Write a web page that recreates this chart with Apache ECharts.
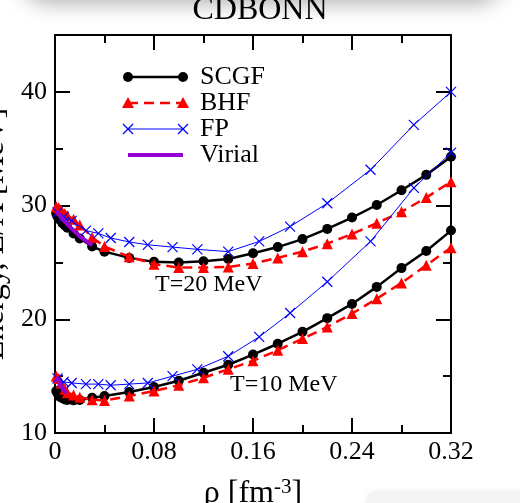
<!DOCTYPE html>
<html>
<head>
<meta charset="utf-8">
<script src="https://cdn.jsdelivr.net/npm/echarts@6/dist/echarts.min.js"></script>
<style>
  html, body { margin: 0; padding: 0; background: #fff; }
  #chart { width: 520px; height: 503px; }
</style>
</head>
<body>
<div id="chart"></div>
<script>
// Energy per particle of neutron matter, CDBONN potential, at T = 10 and 20 MeV
const SERIF = '"Liberation Serif","Times New Roman",serif';

const chartTitle = 'CDBONN';
const seriesNames = ['SCGF', 'BHF', 'FP', 'Virial'];
const tempLabels = ['T=20 MeV', 'T=10 MeV'];
const xTickLabels = [0, 0.08, 0.16, 0.24, 0.32];
const yTickLabels = [10, 20, 30, 40];

// density grids (fm^-3)
const rhoSCGF = [0.001, 0.002, 0.004, 0.006, 0.008, 0.01, 0.015, 0.02, 0.03, 0.04, 0.06, 0.08, 0.10, 0.12, 0.14, 0.16, 0.18, 0.20, 0.22, 0.24, 0.26, 0.28, 0.30, 0.32];
const rhoBHF = [0.001, 0.003, 0.005, 0.008, 0.01, 0.015, 0.02, 0.03, 0.04, 0.06, 0.08, 0.10, 0.12, 0.14, 0.16, 0.18, 0.20, 0.22, 0.24, 0.26, 0.28, 0.30, 0.32];
const rhoFP = [0.002, 0.007, 0.0135, 0.025, 0.035, 0.045, 0.06, 0.075, 0.095, 0.115, 0.14, 0.165, 0.19, 0.22, 0.255, 0.29, 0.32];
const rhoVirial20 = [0.001, 0.005, 0.01, 0.015, 0.02, 0.025, 0.03];
const rhoVirial10 = [0.001, 0.004, 0.007, 0.009];

// E/A (MeV) at T = 20 MeV
const scgfT20 = [29.3, 29.05, 28.75, 28.45, 28.25, 28.05, 27.55, 27.1, 26.4, 25.95, 25.4, 25.05, 25.0, 25.1, 25.3, 25.8, 26.35, 27.05, 27.95, 28.95, 30.05, 31.35, 32.7, 34.3];
const bhfT20 = [29.9, 29.8, 29.6, 29.3, 29.1, 28.8, 28.3, 27.2, 26.4, 25.5, 24.85, 24.55, 24.55, 24.6, 24.9, 25.4, 25.95, 26.65, 27.5, 28.45, 29.45, 30.7, 32.1];
const fpT20 = [29.4, 29.0, 28.65, 27.8, 27.55, 27.15, 26.8, 26.55, 26.35, 26.15, 25.95, 26.85, 28.15, 30.2, 33.15, 37.1, 40.0];
const virialT20 = [29.5, 28.95, 28.35, 27.8, 27.3, 26.9, 26.5];

// E/A (MeV) at T = 10 MeV
const scgfT10 = [13.7, 13.5, 13.2, 13.05, 12.95, 12.9, 12.87, 12.9, 13.1, 13.25, 13.6, 14.05, 14.6, 15.3, 16.0, 16.9, 17.85, 18.9, 20.1, 21.35, 22.85, 24.5, 26.0, 27.8];
const bhfT10 = [15.0, 14.8, 14.4, 13.85, 13.55, 13.35, 13.15, 12.93, 12.86, 13.25, 13.7, 14.2, 14.86, 15.6, 16.35, 17.27, 18.3, 19.32, 20.5, 21.8, 23.2, 24.75, 26.3];
const fpT10 = [14.8, 14.5, 14.4, 14.3, 14.3, 14.2, 14.3, 14.4, 15.0, 15.6, 16.75, 18.45, 20.55, 23.3, 26.85, 31.55, 34.65];
const virialT10 = [14.9, 14.3, 13.8, 13.5];

const zip = (xs, ys) => xs.map((x, i) => [x, ys[i]]);

const COLORS = { SCGF: '#000000', BHF: '#ff0000', FP: '#0000ff', Virial: '#9400d3' };
const CROSS = 'path://M0,0L10,10M10,0L0,10';

function scgf(data) {
  return {
    type: 'line', name: 'SCGF', data, symbol: 'circle', symbolSize: 10,
    lineStyle: { color: COLORS.SCGF, width: 2.5 },
    itemStyle: { color: COLORS.SCGF }, z: 3
  };
}
function bhf(data) {
  return {
    type: 'line', name: 'BHF', data, symbol: 'triangle', symbolSize: 11,
    lineStyle: { color: COLORS.BHF, width: 2.5, type: [10, 6] },
    itemStyle: { color: COLORS.BHF }, z: 4
  };
}
function fp(data) {
  return {
    type: 'line', name: 'FP', data, symbol: CROSS, symbolSize: 10,
    lineStyle: { color: COLORS.FP, width: 1 },
    itemStyle: { color: COLORS.FP, borderColor: COLORS.FP, borderWidth: 1.2 }, z: 5
  };
}
function virial(data) {
  return {
    type: 'line', name: 'Virial', data, showSymbol: false, symbol: 'none',
    lineStyle: { color: COLORS.Virial, width: 4 }, z: 6
  };
}

const tickFont = { fontFamily: SERIF, fontSize: 26, color: '#000' };
const axisLine = { show: true, lineStyle: { color: '#000', width: 2 } };

function xAxis(position, labels) {
  return {
    type: 'value', position, min: 0, max: 0.32, interval: 0.08,
    axisLine, splitLine: { show: false },
    axisTick: { inside: true, length: 15, lineStyle: { color: '#000', width: 2 } },
    minorTick: { show: true, splitNumber: 2, length: 8, lineStyle: { color: '#000', width: 2 } },
    axisLabel: labels ? Object.assign({ margin: 6, formatter: v => xTickLabels.some(t => Math.abs(t - v) < 1e-9) ? String(+v.toFixed(2)) : '' }, tickFont) : { show: false },
    name: labels ? '{a|ρ [fm}{s|-3}{a|]}' : '',
    nameLocation: 'middle', nameGap: 44,
    nameTextStyle: {
      rich: {
        a: { fontFamily: SERIF, fontSize: 32, color: '#000', lineHeight: 34 },
        s: { fontFamily: SERIF, fontSize: 21, color: '#000', verticalAlign: 'top', lineHeight: 18 }
      }
    }
  };
}

function yAxis(position, major, labels) {
  return {
    type: 'value', position, min: 10, max: 45, interval: major ? 10 : 5,
    axisLine, splitLine: { show: false },
    axisTick: { inside: true, length: major ? 15 : 8, lineStyle: { color: '#000', width: 2 } },
    axisLabel: labels ? Object.assign({ margin: 8, showMaxLabel: false, formatter: v => yTickLabels.includes(v) ? String(v) : '' }, tickFont) : { show: false },
    name: labels ? 'Energy, E/A [MeV]' : '',
    nameLocation: 'middle', nameRotate: 90, nameGap: 40,
    nameTextStyle: { fontFamily: SERIF, fontSize: 32, color: '#000' }
  };
}

// legend drawn as graphic elements: sample line with marks at both ends
const LX1 = 128, LX2 = 183, LTX = 200;
const legendRows = [77, 103, 129, 155];
const legendGraphics = [];
seriesNames.forEach((name, i) => {
  const y = legendRows[i];
  const c = COLORS[name];
  const line = { type: 'line', shape: { x1: LX1, y1: y, x2: LX2, y2: y }, style: { stroke: c, lineWidth: 2.5 }, z: 10 };
  if (name === 'BHF') line.style.lineDash = [10, 6];
  if (name === 'FP') line.style.lineWidth = 1;
  if (name === 'Virial') line.style.lineWidth = 4;
  legendGraphics.push(line);
  [LX1, LX2].forEach(cx => {
    if (name === 'SCGF') {
      legendGraphics.push({ type: 'circle', shape: { cx, cy: y, r: 5 }, style: { fill: c }, z: 11 });
    } else if (name === 'BHF') {
      legendGraphics.push({ type: 'polygon', shape: { points: [[cx, y - 6], [cx - 6, y + 5], [cx + 6, y + 5]] }, style: { fill: c }, z: 11 });
    } else if (name === 'FP') {
      legendGraphics.push({ type: 'polyline', shape: { points: [[cx - 5, y - 5], [cx + 5, y + 5]] }, style: { stroke: c, lineWidth: 1.2 }, z: 11 });
      legendGraphics.push({ type: 'polyline', shape: { points: [[cx - 5, y + 5], [cx + 5, y - 5]] }, style: { stroke: c, lineWidth: 1.2 }, z: 11 });
    }
  });
  legendGraphics.push({
    type: 'text', x: LTX, y, z: 11,
    style: { text: name, fontFamily: SERIF, fontSize: 26, fill: '#000', verticalAlign: 'middle', align: 'left' }
  });
});

const chart = echarts.init(document.getElementById('chart'), null, { renderer: 'canvas' });
chart.setOption({
  animation: false,
  backgroundColor: '#fff',
  title: {
    text: chartTitle, left: 'center', top: -5, padding: 0,
    textStyle: { fontFamily: SERIF, fontSize: 32, fontWeight: 'normal', color: '#000' }
  },
  grid: { left: 55, right: 69, top: 35, bottom: 70, containLabel: false, outerBoundsMode: 'none' },
  xAxis: [xAxis('bottom', true), xAxis('top', false)],
  yAxis: [yAxis('left', true, true), yAxis('left', false, false), yAxis('right', true, false), yAxis('right', false, false)],
  series: [
    scgf(zip(rhoSCGF, scgfT20)), bhf(zip(rhoBHF, bhfT20)), fp(zip(rhoFP, fpT20)), virial(zip(rhoVirial20, virialT20)),
    scgf(zip(rhoSCGF, scgfT10)), bhf(zip(rhoBHF, bhfT10)), fp(zip(rhoFP, fpT10)), virial(zip(rhoVirial10, virialT10))
  ],
  graphic: [
    // soft drop shadow of the panel above the figure
    { type: 'rect', shape: { x: 20, y: -60, width: 485, height: 60, r: 30 }, style: { fill: '#ffffff', shadowBlur: 22, shadowColor: 'rgba(0,0,0,0.35)', shadowOffsetY: 2 }, z: 0, silent: true },
    // edge of the panel below the figure
    { type: 'rect', shape: { x: 368, y: 493, width: 200, height: 40, r: 8 }, style: { fill: '#f4f4f4', shadowBlur: 6, shadowColor: 'rgba(0,0,0,0.12)' }, z: 0, silent: true },
    { type: 'text', x: 155, y: 285, z: 11, style: { text: tempLabels[0], fontFamily: SERIF, fontSize: 24, fill: '#000', verticalAlign: 'middle' } },
    { type: 'text', x: 230, y: 385, z: 11, style: { text: tempLabels[1], fontFamily: SERIF, fontSize: 24, fill: '#000', verticalAlign: 'middle' } }
  ].concat(legendGraphics)
});
</script>
</body>
</html>
